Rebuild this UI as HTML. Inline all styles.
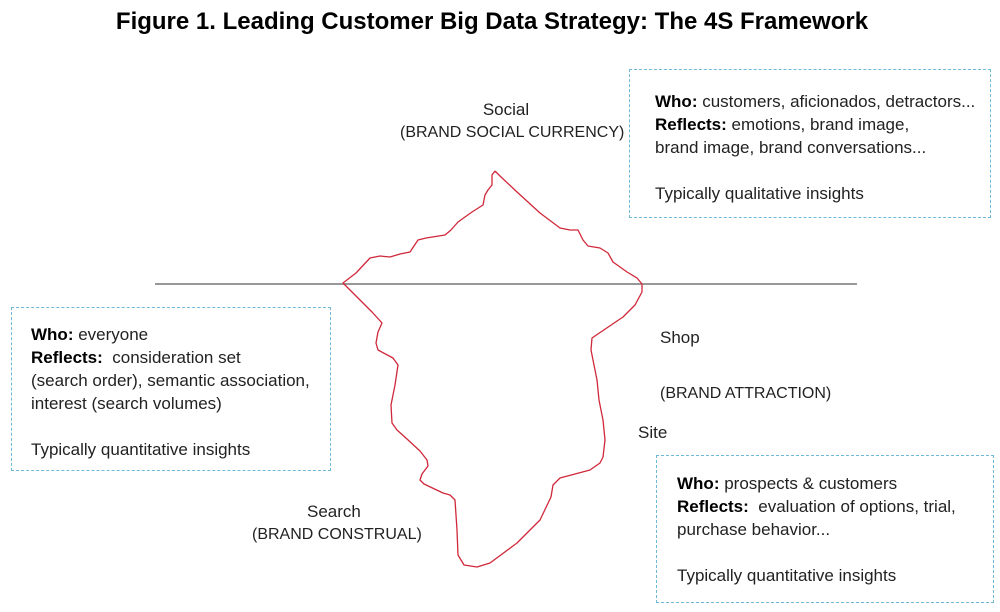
<!DOCTYPE html>
<html><head><style>
body{margin:0;width:1000px;height:612px;background:#fff;font-family:"Liberation Sans",sans-serif;color:#222;position:relative;overflow:hidden}
.t{position:absolute;font-size:17px;line-height:23px;white-space:nowrap}
.box{position:absolute;border:1.5px dashed #6fb8d8;box-sizing:border-box}
b{color:#000}
</style></head><body>
<div class="t" style="left:0;width:984px;text-align:center;top:7px;font-size:24px;font-weight:bold;color:#000;line-height:30px">Figure 1. Leading Customer Big Data Strategy: The 4S Framework</div>
<svg width="1000" height="612" style="position:absolute;left:0;top:0">
<line x1="155" y1="284" x2="857" y2="284" stroke="#777" stroke-width="1.5"/>
<polyline fill="none" stroke="#d0283a" stroke-width="1.3" stroke-linejoin="round" points="495,171 500,176 517,192 540,213 560,228 570,230 578,230 583,240 588,246 600,248 608,253 613,262 627,272 637,278 642,284 642,292 635,305 623,317 592,338 591,350 597,380 599,400 603,420 605,440 603,457 600,463 590,470 560,478 553,485 551,497 540,520 517,543 490,563 477,567 464,565 458,555 457,530 455,500 450,495 443,493 424,484 420,480 422,474 428,466 427,460 420,451 407,439 397,430 392,423 391,405 395,385 398,365 393,358 378,350 376,343 378,332 382,323 372,312 343,283 356,273 370,258 380,256 390,257 400,254 410,252 418,240 426,238 445,235 451,230 458,222 472,212 483,205 485,195 488,190 492,185 492,175 495,171"/>
</svg>
<div class="t" style="left:460px;width:92px;text-align:center;top:98px">Social</div>
<div class="t" style="left:400px;top:121px;font-size:16px">(BRAND SOCIAL CURRENCY)</div>
<div class="t" style="left:660px;top:326px">Shop</div>
<div class="t" style="left:660px;top:382px;font-size:16px">(BRAND ATTRACTION)</div>
<div class="t" style="left:638px;top:421px">Site</div>
<div class="t" style="left:307px;top:500px">Search</div>
<div class="t" style="left:252px;top:523px;font-size:16px">(BRAND CONSTRUAL)</div>
<div class="box" style="left:629px;top:69px;width:362px;height:149px"></div>
<div class="t" style="left:655px;top:90px"><b>Who:</b> customers, aficionados, detractors...<br><b>Reflects:</b> emotions, brand image,<br>brand image, brand conversations...<br><br>Typically qualitative insights</div>
<div class="box" style="left:11px;top:307px;width:320px;height:164px"></div>
<div class="t" style="left:31px;top:323px"><b>Who:</b> everyone<br><b>Reflects:</b>&nbsp; consideration set<br>(search order), semantic association,<br>interest (search volumes)<br><br>Typically quantitative insights</div>
<div class="box" style="left:656px;top:455px;width:338px;height:148px"></div>
<div class="t" style="left:677px;top:472px"><b>Who:</b> prospects &amp; customers<br><b>Reflects:</b>&nbsp; evaluation of options, trial,<br>purchase behavior...<br><br>Typically quantitative insights</div>
</body></html>
